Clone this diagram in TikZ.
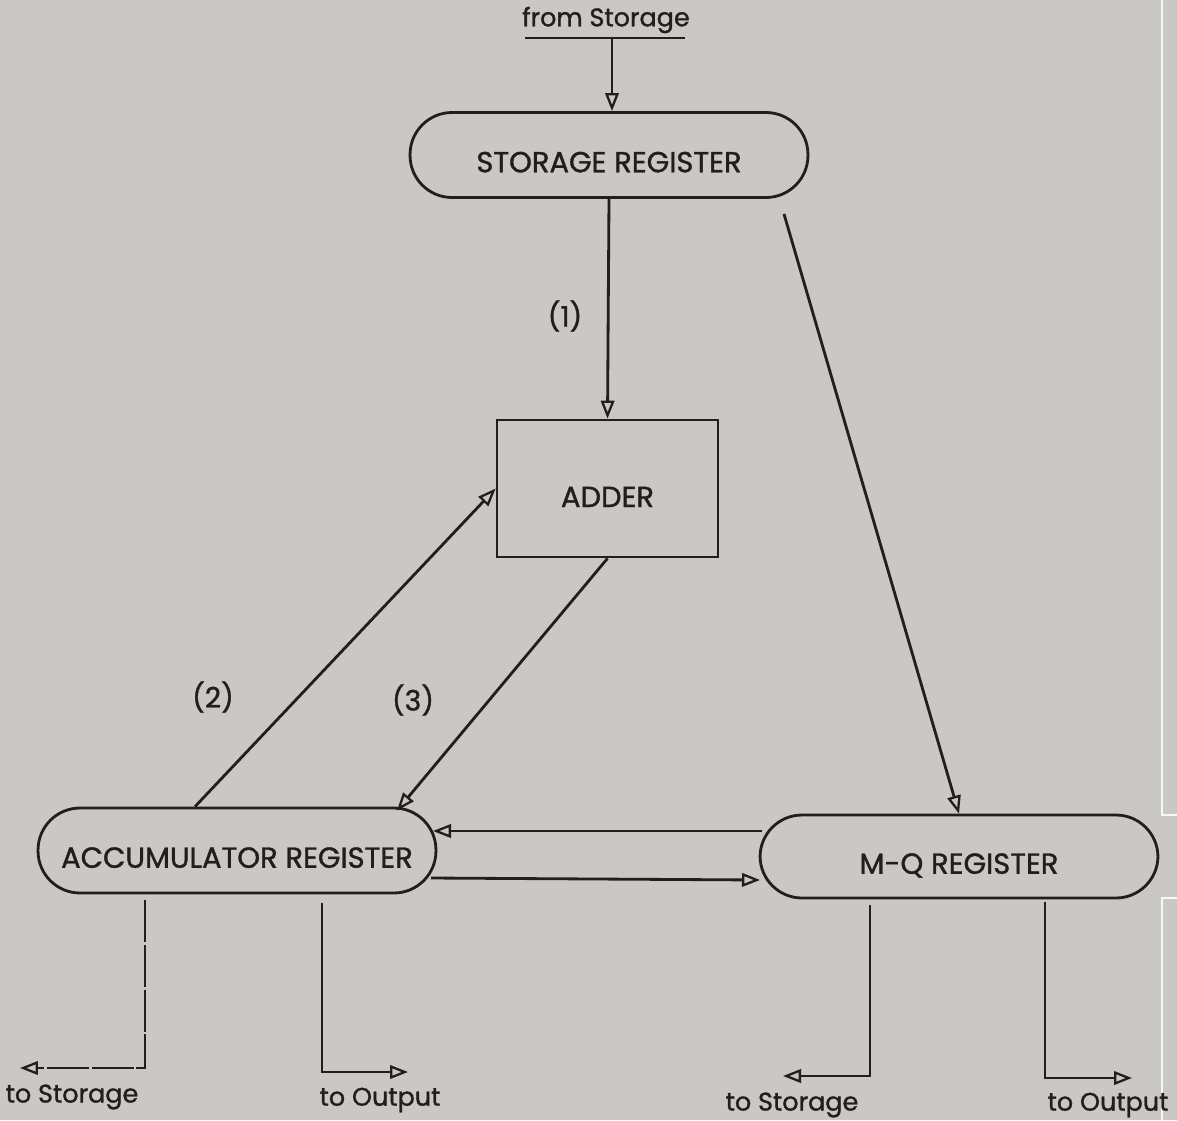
\documentclass[tikz,border=0pt]{standalone}
\usepackage{fontspec}
\setmainfont{Poppins}[FakeBold=1.2]
\usetikzlibrary{arrows.meta}
\definecolor{paper}{RGB}{201,200,196}
\definecolor{ink}{RGB}{34,30,28}
\tikzset{
  wire/.style={draw=ink, line width=1.6pt},
  tip/.style={-{Triangle[open, length=0.36cm, width=0.27cm, line width=1.3pt]}},
  arr/.style={wire, tip},
  capfont/.style={font=\fontsize{16.5}{19}\selectfont},
  reg/.style={draw=ink, line width=1.6pt, rounded corners=0.84cm, minimum width=7.96cm, minimum height=1.7cm, inner sep=0pt, text height=0.69cm, text depth=0pt, capfont, text=ink},
  box/.style={draw=ink, line width=1.6pt, minimum width=4.42cm, minimum height=2.74cm, inner sep=0pt, text height=0.74cm, text depth=0pt, capfont, text=ink},
  lbl/.style={font=\fontsize{14.5}{17}\selectfont, text=ink, inner sep=1pt},
}
\begin{document}
\begin{tikzpicture}[x=0.02cm,y=-0.02cm]
\fill[paper] (0,0) rectangle (1177,1120);
\useasboundingbox (0,0) rectangle (1177,1120);
% scan edge
\draw[white!85!paper, line width=0.6pt] (1162,0) -- (1162,815) -- (1177,815);
\draw[white!85!paper, line width=0.6pt] (1177,898) -- (1162,898) -- (1162,1120);

\node[lbl, inner sep=0pt] (fs) at (606,20) {from Storage};
\draw[wire] (525,38) -- (685,38);
\coordinate (fsb) at (612,38);

\node[reg] (sr) at (609,155) {STORAGE REGISTER};
\node[box] (adder) at (607.5,488.5) {ADDER};
\node[reg] (acc) at (237,850.5) {ACCUMULATOR REGISTER};
\node[reg, minimum height=1.66cm] (mq) at (959,856.5) {M-Q REGISTER};

\node[lbl, font=\fontsize{16}{19}\selectfont] (l1) at (565,316) {(1)};
\node[lbl, font=\fontsize{16}{19}\selectfont] (l2) at (213,697) {(2)};
\node[lbl, font=\fontsize{16}{19}\selectfont] (l3) at (413,700) {(3)};

\draw[arr] (fsb) -- (fsb |- sr.north);
\draw[arr] (sr.south) -- (adder.north);
\draw[arr] ([xshift=-0.84cm]acc.north) -- (adder.west);
\draw[arr] (adder.south) -- ([xshift=3.2cm,yshift=-0.08cm]acc.north);
\draw[arr] ([xshift=3.5cm,yshift=-0.3cm]sr.south) -- (mq.north);

\coordinate (h1) at (762,831);
\coordinate (h2) at (431,878);
\draw[arr] (h1) -- (433,831);
\draw[arr] (h2) -- (760,880);

% outputs
\coordinate (a1) at (145,900);
\coordinate (a1e) at (20,1068);
\draw[wire, tip, dash pattern=on 24pt off 1.5pt] (a1) |- (a1e);
\coordinate (a2) at (322,903);
\coordinate (a2e) at (408,1072);
\draw[arr] (a2) |- (a2e);
\coordinate (m1) at (870,905);
\coordinate (m1e) at (783,1076);
\draw[arr] (m1) |- (m1e);
\coordinate (m2) at (1045,902);
\coordinate (m2e) at (1132,1078);
\draw[arr] (m2) |- (m2e);

\node[lbl] (t1) at (72,1097) {to Storage};
\node[lbl] (t2) at (380,1100) {to Output};
\node[lbl] (t3) at (792,1105) {to Storage};
\node[lbl] (t4) at (1108,1105) {to Output};
\end{tikzpicture}
\end{document}
